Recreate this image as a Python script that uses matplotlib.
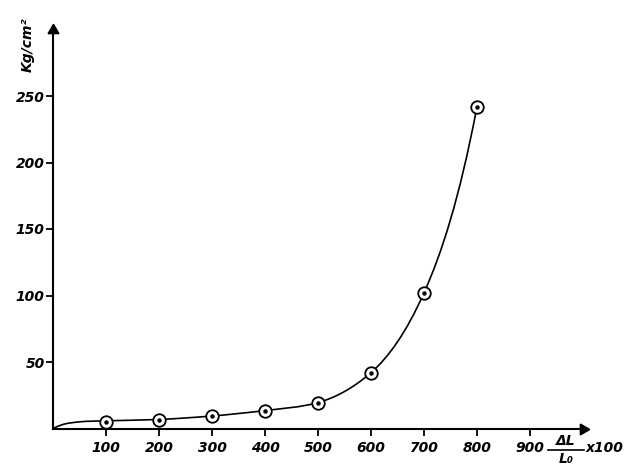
import numpy as np
import matplotlib.pyplot as plt
from matplotlib.path import Path
from matplotlib.patches import PathPatch

# Odczytane punkty pomiarowe
strain = [100, 200, 300, 400, 500, 600, 700, 800]
stress = [4.7, 6.5, 9.4, 13.5, 19.5, 42, 102, 242]

# Krzywa wyrównująca (odczytana z rysunku, nie przechodzi idealnie przez punkty)
curve_x = [0, 20, 50, 100, 200, 300, 400, 500, 600, 700, 800]
curve_y = [0, 3.2, 5.0, 5.8, 6.8, 9.4, 13.5, 19.5, 42, 102, 242]

x_ticks = [100, 200, 300, 400, 500, 600, 700, 800, 900]
y_ticks = [50, 100, 150, 200, 250]


def smooth_path(xs, ys):
    """Ścieżka Béziera (Hermite) przez punkty; styczne liczone w skali log."""
    xs = np.asarray(xs, float)
    ys = np.asarray(ys, float)
    n = len(xs)
    m = np.zeros(n)
    for i in range(n):
        lo = max(i - 1, 0)
        hi = min(i + 1, n - 1)
        if ys[lo] > 0 and ys[hi] > 0 and ys[i] > 0 and lo != hi:
            m[i] = ys[i] * (np.log(ys[hi]) - np.log(ys[lo])) / (xs[hi] - xs[lo])
        else:
            m[i] = (ys[hi] - ys[lo]) / (xs[hi] - xs[lo])
    verts = [(xs[0], ys[0])]
    codes = [Path.MOVETO]
    for i in range(n - 1):
        d = (xs[i + 1] - xs[i]) / 3.0
        verts += [(xs[i] + d, ys[i] + d * m[i]),
                  (xs[i + 1] - d, ys[i + 1] - d * m[i + 1]),
                  (xs[i + 1], ys[i + 1])]
        codes += [Path.CURVE4] * 3
    return Path(verts, codes)


fig = plt.figure(figsize=(6.3, 4.68), dpi=100)
ax = fig.add_axes([53 / 630, 39.5 / 468, 530 / 630, 399 / 468])
ax.set_xlim(0, 1000)
ax.set_ylim(0, 300)

for s in ["top", "right"]:
    ax.spines[s].set_visible(False)
for s in ["left", "bottom"]:
    ax.spines[s].set_linewidth(1.5)

# Strzałki na osiach
ax.plot(1, 0, marker=(3, 0, -90), color="black", markersize=9,
        transform=ax.get_yaxis_transform(), clip_on=False)
ax.plot(0, 1, marker=(3, 0, 0), color="black", markersize=9,
        transform=ax.get_xaxis_transform(), clip_on=False)

font = dict(family="DejaVu Sans", weight="bold", style="italic", size=10)

ax.set_xticks(x_ticks)
ax.set_yticks(y_ticks)
ax.set_xticklabels([str(v) for v in x_ticks], **font)
ax.set_yticklabels([str(v) for v in y_ticks], **font)
ax.tick_params(axis="both", direction="out", length=5, width=1.3, pad=1)
ax.tick_params(axis="x", pad=4)

# Krzywa
path = smooth_path(curve_x, curve_y)
ax.add_patch(PathPatch(path, facecolor="none", edgecolor="black", lw=1.2,
                       transform=ax.transData, clip_on=False))

# Punkty pomiarowe (kółko z kropką)
ax.plot(strain, stress, "o", markersize=9, markerfacecolor="white",
        markeredgecolor="black", markeredgewidth=1.3, clip_on=False, zorder=3)
ax.plot(strain, stress, "o", markersize=2.2, color="black", clip_on=False,
        zorder=4)

# Opisy osi
fig.text(28 / 630, 1 - 45 / 468, "Kg/cm²", rotation=90, ha="center",
         va="center", **font)
fig.text(566 / 630, 1 - 441 / 468, "ΔL", ha="center", va="center", **font)
fig.add_artist(plt.Line2D([548 / 630, 584 / 630], [1 - 450 / 468, 1 - 450 / 468],
                          color="black", lw=1.2))
fig.text(566 / 630, 1 - 459 / 468, "L₀", ha="center", va="center", **font)
fig.text(586 / 630, 1 - 448 / 468, "x100", ha="left", va="center", **font)

fig.savefig("out.png", dpi=100)
